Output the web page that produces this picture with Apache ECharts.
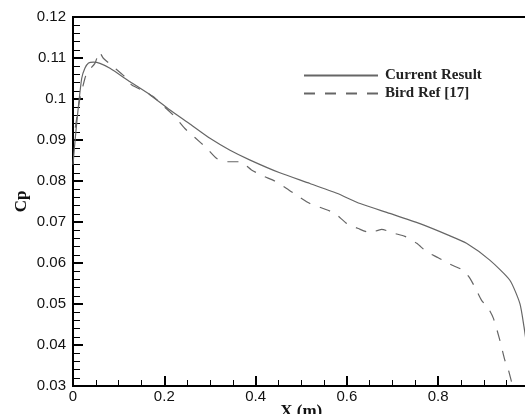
<!DOCTYPE html>
<html>
<head>
<meta charset="utf-8">
<script src="https://cdn.jsdelivr.net/npm/echarts@6/dist/echarts.min.js"></script>
<style>
html,body{margin:0;padding:0;background:#fff;}
#chart{width:525px;height:414px;}
</style>
</head>
<body>
<div id="chart"></div>
<script>
var xCurrent = [0.0, 0.003, 0.0095, 0.019, 0.026, 0.034, 0.045, 0.059, 0.081, 0.125, 0.169, 0.2125, 0.256, 0.30, 0.344, 0.388, 0.453, 0.519, 0.578, 0.629, 0.694, 0.760, 0.822, 0.862, 0.913, 0.957, 0.979, 0.988, 0.995];
var cpCurrent = [0.084, 0.088, 0.0957, 0.105, 0.1075, 0.1088, 0.109, 0.1087, 0.1075, 0.1042, 0.101, 0.0973, 0.0939, 0.0904, 0.0875, 0.0851, 0.082, 0.0794, 0.077, 0.0745, 0.0721, 0.0696, 0.0668, 0.0648, 0.0607, 0.0558, 0.0501, 0.0444, 0.039];

var xBird = [0.005, 0.015, 0.026, 0.031, 0.048, 0.058, 0.066, 0.088, 0.114, 0.129, 0.158, 0.18, 0.2, 0.223, 0.245, 0.267, 0.293, 0.315, 0.34, 0.366, 0.391, 0.417, 0.442, 0.468, 0.497, 0.519, 0.548, 0.574, 0.6, 0.625, 0.651, 0.676, 0.705, 0.727, 0.753, 0.775, 0.80, 0.826, 0.855, 0.87, 0.884, 0.895, 0.91, 0.921, 0.935, 0.946, 0.954, 0.963];
var cpBird = [0.093, 0.1, 0.105, 0.1065, 0.1087, 0.1115, 0.110, 0.1079, 0.1054, 0.1034, 0.1018, 0.1002, 0.0981, 0.0957, 0.0928, 0.0906, 0.088, 0.0855, 0.0847, 0.0847, 0.0827, 0.0812, 0.080, 0.0782, 0.076, 0.0745, 0.0733, 0.0721, 0.0696, 0.0684, 0.0674, 0.0682, 0.0672, 0.0665, 0.0648, 0.0627, 0.0613, 0.0597, 0.0582, 0.0562, 0.0533, 0.0509, 0.0489, 0.0465, 0.0412, 0.0363, 0.0338, 0.03];

var seriesNames = ['Current Result', 'Bird Ref [17]'];
var xTitle = 'X (m)';
var yTitle = 'Cp';

function pairs(xs, ys) { return xs.map(function (x, i) { return [x, ys[i]]; }); }

var chart = echarts.init(document.getElementById('chart'), null, {renderer: 'canvas'});
var axisFont = {fontFamily: 'Liberation Sans, Arial, sans-serif', fontSize: 15, color: '#111'};
chart.setOption({
  animation: false,
  backgroundColor: '#fff',
  grid: {left: 73, top: 17, width: 456.5, height: 369, containLabel: false, outerBoundsMode: 'none',
         show: true, borderColor: '#000', borderWidth: 2, backgroundColor: 'transparent'},
  legend: {
    orient: 'vertical', left: 298, top: 63, itemWidth: 74, itemHeight: 14, itemGap: 3,
    itemStyle: {opacity: 0},
    textStyle: {fontFamily: 'Liberation Serif, Times New Roman, serif', fontWeight: 'bold', fontSize: 15, color: '#222', padding: [0, 0, 0, 2]},
    data: seriesNames
  },
  xAxis: {
    type: 'value', min: 0, max: 1, interval: 0.2,
    axisLine: {lineStyle: {color: '#000', width: 2}},
    axisTick: {inside: true, length: 10, lineStyle: {color: '#000', width: 2}},
    minorTick: {show: true, splitNumber: 4, length: 6, lineStyle: {color: '#000', width: 1}},
    splitLine: {show: false},
    axisLabel: Object.assign({margin: 3}, axisFont),
    name: xTitle, nameLocation: 'middle', nameGap: 17, nameMoveOverlap: false,
    nameTextStyle: {fontFamily: 'Liberation Serif, Times New Roman, serif', fontWeight: 'bold', fontSize: 17, color: '#111', verticalAlign: 'top'}
  },
  yAxis: {
    type: 'value', min: 0.03, max: 0.12, interval: 0.01,
    axisLine: {lineStyle: {color: '#000', width: 2}},
    axisTick: {inside: true, length: 10, lineStyle: {color: '#000', width: 2}},
    minorTick: {show: true, splitNumber: 5, length: 7, lineStyle: {color: '#000', width: 1}},
    splitLine: {show: false},
    axisLabel: Object.assign({margin: 7, formatter: function (v) { return String(+v.toFixed(3)); }}, axisFont),
    name: yTitle, nameLocation: 'middle', nameGap: 43, nameMoveOverlap: false,
    nameTextStyle: {fontFamily: 'Liberation Serif, Times New Roman, serif', fontWeight: 'bold', fontSize: 17, color: '#111'}
  },
  series: [
    {name: seriesNames[0], type: 'line', data: pairs(xCurrent, cpCurrent), symbol: 'none', smooth: 0.2,
     lineStyle: {color: '#666', width: 1.2, type: 'solid'}, itemStyle: {color: '#666'}},
    {name: seriesNames[1], type: 'line', data: pairs(xBird, cpBird), symbol: 'none', smooth: 0.2,
     lineStyle: {color: '#666', width: 1.2, type: [11, 10]}, itemStyle: {color: '#666'}}
  ]
});
</script>
</body>
</html>
